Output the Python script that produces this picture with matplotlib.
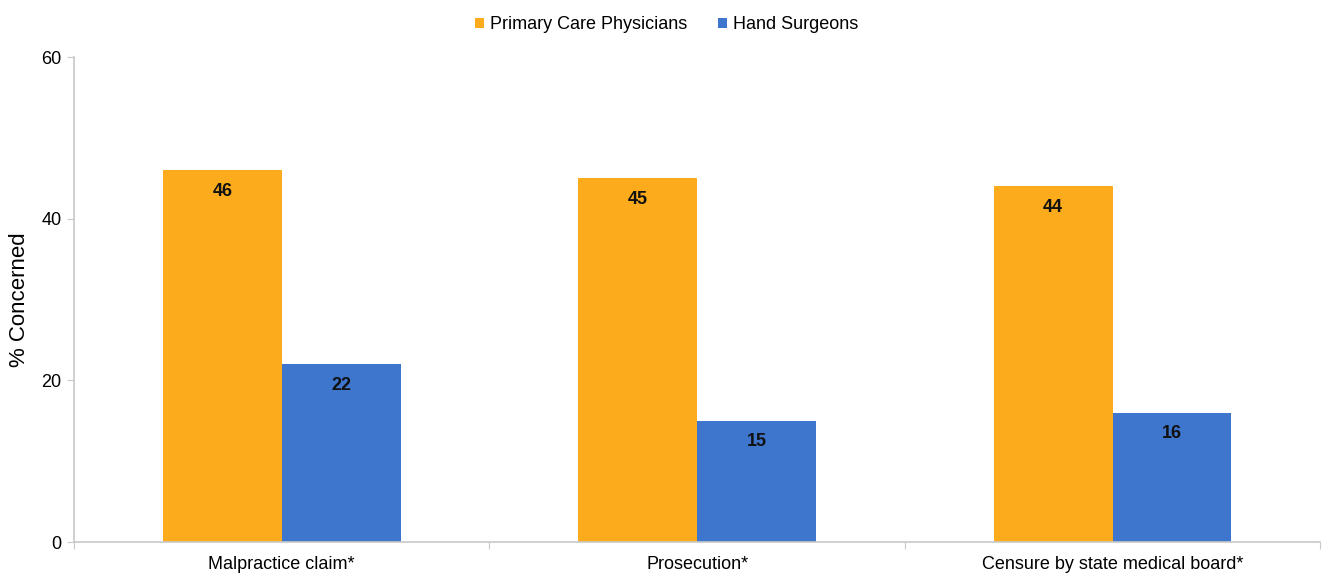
import matplotlib
matplotlib.use("Agg")
import matplotlib.pyplot as plt
import numpy as np

categories = ["Malpractice claim*", "Prosecution*", "Censure by state medical board*"]
primary_care = [46, 45, 44]
hand_surgeons = [22, 15, 16]
series_names = ["Primary Care Physicians", "Hand Surgeons"]

plt.rcParams['font.family'] = ['Liberation Sans', 'DejaVu Sans']

fig = plt.figure(figsize=(13.28, 5.76), dpi=100)
ax = fig.add_axes([0.0557, 0.059, 0.9385, 0.842])

x = np.arange(len(categories))
w = 0.286
grey = "#c8c8c8"
b1 = ax.bar(x - w / 2, primary_care, w, color="#fbab1c", label=series_names[0])
b2 = ax.bar(x + w / 2, hand_surgeons, w, color="#3d76cc", label=series_names[1])

# value labels just inside the top of each bar
for bars in (b1, b2):
    for r in bars:
        ax.annotate(str(int(r.get_height())), (r.get_x() + r.get_width() / 2, r.get_height()),
                    xytext=(0, -15), textcoords="offset points", ha="center", va="center",
                    fontsize=13, fontweight="bold", color="#111111")

ax.set_xlim(-0.5, len(categories) - 0.5)
ax.set_ylim(0, 60)
ax.set_yticks([0, 20, 40, 60])
# tick marks between groups, labels centred under groups
ax.set_xticks(np.arange(len(categories) + 1) - 0.5)
ax.set_xticklabels([])
ax.set_xticks(x, minor=True)
ax.set_xticklabels(categories, minor=True, fontsize=13)
ax.tick_params(axis="x", which="minor", length=0, pad=10)
ax.tick_params(axis="x", which="major", length=5, color=grey, direction="out")
ax.tick_params(axis="y", length=5, color=grey, labelsize=13, pad=4)

for s in ("top", "right"):
    ax.spines[s].set_visible(False)
for s in ("left", "bottom"):
    ax.spines[s].set_color(grey)
    ax.spines[s].set_linewidth(1.2)

ax.set_ylabel("% Concerned", fontsize=16, labelpad=8)

fig.legend(loc="upper center", bbox_to_anchor=(0.502, 1.0), ncol=2, frameon=False,
           fontsize=13, handlelength=0.5, handleheight=0.5, handletextpad=0.35,
           columnspacing=1.7)

fig.savefig("out.png", dpi=100)
